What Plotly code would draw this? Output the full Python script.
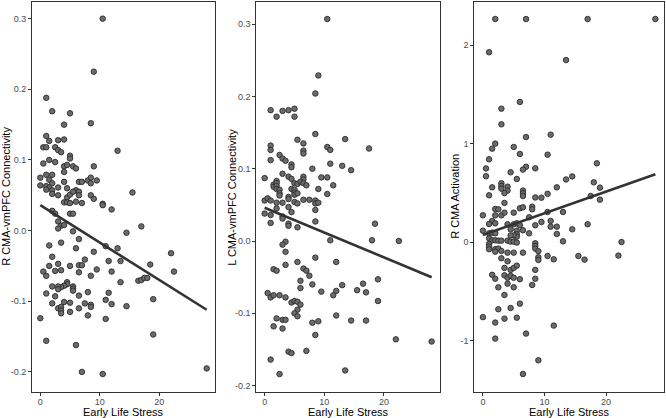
import plotly.graph_objects as go

# ---------------- data ----------------
p1_x = [10.5, 9, 1, 2, 5, 4, 8.5, 1, 1.5, 3, 4, 0.5, 1, 2.5, 3, 3.5, 5, 5, 13, 0.5,
        1.5, 2.5, 4, 4.5, 5.5, 6, 9, 4, 0, 1, 2, 1.5, 2, 4, 6.5, 7, 8, 8.5, 8.5, 9.5,
        0, 1, 1.5, 3, 4.5, 15.5, 6, 6.5, 1, 2, 2, 3, 4.5, 5, 5.5, 6.5, 8.5, 9, 4, 4.5,
        5, 6, 7, 10.5, 10.5, 12, 2, 2.5, 5, 5.5, 3, 3.5, 4, 3, 5.5, 14.5, 17, 6.5, 3.5, 1.5,
        11, 6, 13, 9, 2, 7.5, 11.5, 13.5, 6.5, 7, 1.5, 3, 5, 9.5, 2.5, 3.5, 0.5, 1, 6.5, 12,
        8.5, 13.5, 16.5, 17, 17.5, 18, 4.5, 4.5, 4, 3.5, 3, 3, 2, 5.5, 5.5, 5.5, 1, 2.5, 8, 11.5,
        6.5, 11, 4, 2, 12, 5, 7.5, 8.5, 8.5, 14.5, 3, 3.5, 3.5, 3.5, 6.5, 5, 8, 0, 11, 1,
        6, 19, 19, 7, 10.5, 28, 22, 22.5, 18.5]
p1_y = [0.300, 0.225, 0.188, 0.169, 0.166, 0.150, 0.152, 0.134, 0.127, 0.128, 0.129, 0.118, 0.118, 0.118, 0.114, 0.111, 0.106, 0.102, 0.113, 0.095,
        0.100, 0.097, 0.091, 0.093, 0.091, 0.088, 0.091, 0.083, 0.075, 0.079, 0.079, 0.072, 0.067, 0.069, 0.069, 0.069, 0.071, 0.075, 0.067, 0.071,
        0.064, 0.063, 0.061, 0.061, 0.060, 0.054, 0.057, 0.055, 0.058, 0.057, 0.052, 0.050, 0.047, 0.051, 0.055, 0.050, 0.050, 0.045, 0.040, 0.040,
        0.039, 0.041, 0.039, 0.038, 0.036, 0.030, 0.028, 0.024, 0.024, 0.024, 0.013, 0.007, 0.008, 0.003, -0.001, -0.003, 0.006, -0.012, -0.017, -0.021,
        -0.022, -0.025, -0.025, -0.030, -0.037, -0.041, -0.043, -0.043, -0.049, -0.049, -0.050, -0.047, -0.050, -0.055, -0.057, -0.056, -0.058, -0.064, -0.059, -0.058,
        -0.064, -0.073, -0.071, -0.070, -0.067, -0.067, -0.073, -0.076, -0.078, -0.080, -0.079, -0.083, -0.079, -0.079, -0.082, -0.085, -0.089, -0.093, -0.087, -0.088,
        -0.092, -0.098, -0.101, -0.103, -0.104, -0.102, -0.103, -0.105, -0.108, -0.107, -0.110, -0.108, -0.113, -0.117, -0.110, -0.115, -0.120, -0.124, -0.125, -0.156,
        -0.162, -0.147, -0.097, -0.200, -0.203, -0.195, -0.032, -0.058, -0.048]

p2_x = [10.5, 9, 8.5, 1, 2, 3, 4, 5, 5, 8.5, 5.5, 6.5, 13.5, 1, 1, 10.5, 11, 6.5, 6.5, 2.5,
        3, 3.5, 1, 4.5, 4.5, 11, 8, 13, 14.5, 17.5, 3, 4, 4.5, 0, 6.5, 6.5, 9.5, 10.5, 11.5, 1.5,
        1.5, 2, 2, 2, 2, 5, 5.5, 6, 6.5, 7, 9, 4.5, 5, 5, 5, 5.5, 2.5, 2.5, 2.5, 10.5,
        4, 4, 6.5, 7.5, 8.5, 8.5, 9, 0, 0.5, 1, 2, 3, 5, 5.5, 4, 2, 8.5, 0, 1, 3,
        3, 4.5, 1, 4, 4, 5.5, 8.5, 11, 3.5, 3, 3.5, 3.5, 8.5, 5.5, 12, 1.5, 2, 6.5, 7, 7.5,
        6, 6, 8, 13, 9.5, 12, 11.5, 15.5, 16.5, 17, 19, 19, 18.5, 18, 22.5, 0.5, 1, 1.5, 2.5, 3.5,
        4.5, 5, 5.5, 6, 5.5, 5, 5.5, 12, 2, 3, 3.5, 8, 9, 14.5, 17, 1.5, 3, 8.5, 22, 28,
        13.5, 2.5, 1, 4, 4.5, 7]
p2_y = [0.307, 0.229, 0.204, 0.181, 0.172, 0.180, 0.181, 0.183, 0.172, 0.148, 0.140, 0.135, 0.141, 0.132, 0.126, 0.130, 0.126, 0.125, 0.121, 0.119,
        0.114, 0.111, 0.112, 0.106, 0.102, 0.107, 0.100, 0.104, 0.098, 0.128, 0.093, 0.089, 0.086, 0.087, 0.089, 0.085, 0.088, 0.088, 0.077, 0.078,
        0.075, 0.083, 0.080, 0.076, 0.072, 0.080, 0.079, 0.082, 0.080, 0.077, 0.072, 0.072, 0.071, 0.067, 0.064, 0.066, 0.071, 0.066, 0.063, 0.065,
        0.061, 0.058, 0.057, 0.057, 0.056, 0.052, 0.053, 0.056, 0.059, 0.056, 0.053, 0.053, 0.054, 0.052, 0.047, 0.045, 0.043, 0.038, 0.036, 0.034,
        0.031, 0.040, 0.025, 0.024, 0.021, 0.019, 0.027, 0.001, -0.001, -0.005, -0.015, -0.033, -0.023, -0.029, -0.029, -0.039, -0.041, -0.038, -0.041, -0.048,
        -0.055, -0.065, -0.060, -0.061, -0.070, -0.069, -0.075, -0.068, -0.059, -0.071, -0.053, -0.083, 0.024, 0.001, 0.000, -0.072, -0.078, -0.075, -0.075, -0.078,
        -0.085, -0.083, -0.084, -0.088, -0.095, -0.100, -0.104, -0.103, -0.107, -0.109, -0.109, -0.113, -0.111, -0.110, -0.110, -0.118, -0.121, -0.130, -0.136, -0.139,
        -0.179, -0.184, -0.164, -0.153, -0.155, -0.152]

p3_x = [2, 7, 17, 28, 1, 13.5, 6, 3, 3, 7, 11, 2, 1.5, 5, 6, 10.5, 1, 18.5, 0.5, 7,
        6.5, 8.5, 4.5, 0.5, 14.5, 13.5, 5.5, 18, 3, 3, 3, 1.5, 4, 4, 3.5, 6.5, 6.5, 6.5, 12, 10.5,
        19, 1, 8.5, 9.5, 17.5, 19, 3.5, 2, 2.5, 6, 6.5, 8, 8, 10.5, 13, 0, 2, 3, 3.5, 5,
        7.5, 1.5, 2, 1, 4, 5, 5.5, 6, 8.5, 9.5, 11, 11, 12, 12, 14.5, 13, 17, 4.5, 5.5, 5.5,
        5.5, 0, 6.5, 7.5, 1, 1.5, 2, 5, 4.5, 1, 1.5, 2, 2.5, 3, 4, 4.5, 5, 5.5, 8.5, 8.5,
        8.5, 9, 1, 1, 1, 2, 2.5, 2, 3, 4, 5, 6.5, 9, 9, 10.5, 11.5, 15.5, 16.5, 22, 22.5,
        3, 4, 3.5, 4.5, 5, 5.5, 1.5, 2, 3.5, 4, 4.5, 5, 6, 8.5, 8.5, 8, 2.5, 4, 5, 3.5,
        2.5, 4.5, 6, 0, 3.5, 5.5, 2, 11.5, 2, 7, 9, 6.5]
p3_y = [2.267, 2.267, 2.267, 2.267, 1.93, 1.85, 1.425, 1.357, 1.198, 1.069, 1.093, 1.002, 0.951, 0.968, 0.897, 0.890, 0.843, 0.802, 0.750, 0.767,
        0.738, 0.751, 0.711, 0.671, 0.669, 0.638, 0.643, 0.609, 0.600, 0.572, 0.545, 0.558, 0.565, 0.525, 0.500, 0.525, 0.497, 0.470, 0.558, 0.492,
        0.555, 0.477, 0.455, 0.453, 0.470, 0.433, 0.400, 0.338, 0.335, 0.345, 0.355, 0.362, 0.335, 0.308, 0.308, 0.274, 0.274, 0.274, 0.301, 0.301,
        0.254, 0.217, 0.193, 0.186, 0.183, 0.183, 0.193, 0.173, 0.173, 0.206, 0.217, 0.159, 0.159, 0.085, 0.132, 0.010, 0.183, 0.132, 0.118, 0.081,
        0.058, 0.118, 0.122, 0.091, 0.091, 0.098, 0.091, 0.070, 0.070, 0.040, 0.020, 0.020, 0.017, 0.017, 0.017, 0.007, 0.007, -0.003, -0.010, -0.037,
        -0.064, -0.090, -0.017, -0.044, -0.070, -0.070, -0.064, -0.095, -0.088, -0.105, -0.105, -0.105, -0.152, -0.180, -0.139, -0.173, -0.139, -0.176, -0.135, 0.003,
        -0.162, -0.193, -0.260, -0.280, -0.260, -0.237, -0.330, -0.370, -0.335, -0.360, -0.340, -0.360, -0.375, -0.280, -0.370, -0.433, -0.457, -0.420, -0.457, -0.535,
        -0.680, -0.667, -0.623, -0.760, -0.775, -0.765, -0.815, -0.846, -0.978, -0.927, -1.198, -1.337]

fit1_x = [0, 28]
fit1_y = [0.036, -0.112]
fit2_x = [0, 28]
fit2_y = [0.046, -0.050]
fit3_x = [0, 28]
fit3_y = [0.075, 0.690]

x_ticks = [0, 10, 20]
x_ticktext = ["0", "10", "20"]
conn_ticks = [-0.2, -0.1, 0.0, 0.1, 0.2, 0.3]
conn_ticktext = ["-0.2", "-0.1", "0.0", "0.1", "0.2", "0.3"]
act_ticks = [-1, 0, 1, 2]
act_ticktext = ["-1", "0", "1", "2"]

y_titles = ["R CMA-vmPFC Connectivity", "L CMA-vmPFC Connectivity", "R CMA Activation"]
x_title = "Early Life Stress"

# ---------------- figure ----------------
W, H = 666, 418
fig = go.Figure()

panels = [
    (p1_x, p1_y, fit1_x, fit1_y, "x", "y"),
    (p2_x, p2_y, fit2_x, fit2_y, "x2", "y2"),
    (p3_x, p3_y, fit3_x, fit3_y, "x3", "y3"),
]
for px, py, fx, fy, xa, ya in panels:
    fig.add_trace(go.Scatter(
        x=px, y=py, mode="markers", xaxis=xa, yaxis=ya, showlegend=False,
        marker=dict(size=5.5, color="#6b6b6b", line=dict(color="#2a2a2a", width=0.9)),
        cliponaxis=False))
    fig.add_trace(go.Scatter(
        x=fx, y=fy, mode="lines", xaxis=xa, yaxis=ya, showlegend=False,
        line=dict(color="#333333", width=2.6)))

# plot-area pixel boxes (left, right) and shared top/bottom
xboxes = [(32, 215), (256.3, 440), (474.3, 664)]
top_px, bot_px = 2, 391.7
ydom = [(H - bot_px) / H, (H - top_px) / H]

tick_font = dict(family="Liberation Sans, Arial, sans-serif", size=9, color="#4d4d4d")
common_ax = dict(showline=True, mirror=True, linecolor="#333333", linewidth=1,
                 ticks="outside", ticklen=3, tickcolor="#333333", tickwidth=1,
                 showgrid=False, zeroline=False, tickfont=tick_font, fixedrange=True)

yranges = [[-0.228, 0.3236], [-0.2084, 0.3306], [-1.517, 2.44]]
yticks = [(conn_ticks, conn_ticktext), (conn_ticks, conn_ticktext), (act_ticks, act_ticktext)]

layout = dict(width=W, height=H, margin=dict(l=0, r=0, t=0, b=0),
              paper_bgcolor="white", plot_bgcolor="white",
              font=dict(family="Liberation Sans, Arial, sans-serif", color="#000000"))
for i, ((l, r), yr, (tv, tt)) in enumerate(zip(xboxes, yranges, yticks)):
    sx = "" if i == 0 else str(i + 1)
    layout["xaxis" + sx] = dict(domain=[l / W, r / W], range=[-1.4, 29.4],
                                tickvals=x_ticks, ticktext=x_ticktext,
                                ticklabelstandoff=-2,
                                anchor="y" + sx, **common_ax)
    layout["yaxis" + sx] = dict(domain=ydom, range=yr, tickvals=tv, ticktext=tt,
                                anchor="x" + sx, **common_ax)
fig.update_layout(**layout)

title_font = dict(family="Liberation Sans, Arial, sans-serif", size=11, color="#000000")
ytitle_x = [6, 232, 455]
ycenter = (H - (top_px + bot_px) / 2) / H
for i, ((l, r), t) in enumerate(zip(xboxes, y_titles)):
    fig.add_annotation(text=t, xref="paper", yref="paper", x=ytitle_x[i] / W, y=ycenter,
                       xanchor="center", yanchor="middle", textangle=-90, showarrow=False,
                       font=title_font)
    fig.add_annotation(text=x_title, xref="paper", yref="paper", x=(l + r) / 2 / W,
                       y=(H - 411.5) / H, xanchor="center", yanchor="middle", showarrow=False,
                       font=title_font)

fig.write_html("out.html", config={"displayModeBar": False},
               post_script="document.body.style.margin='0px';document.body.style.overflow='hidden';")
